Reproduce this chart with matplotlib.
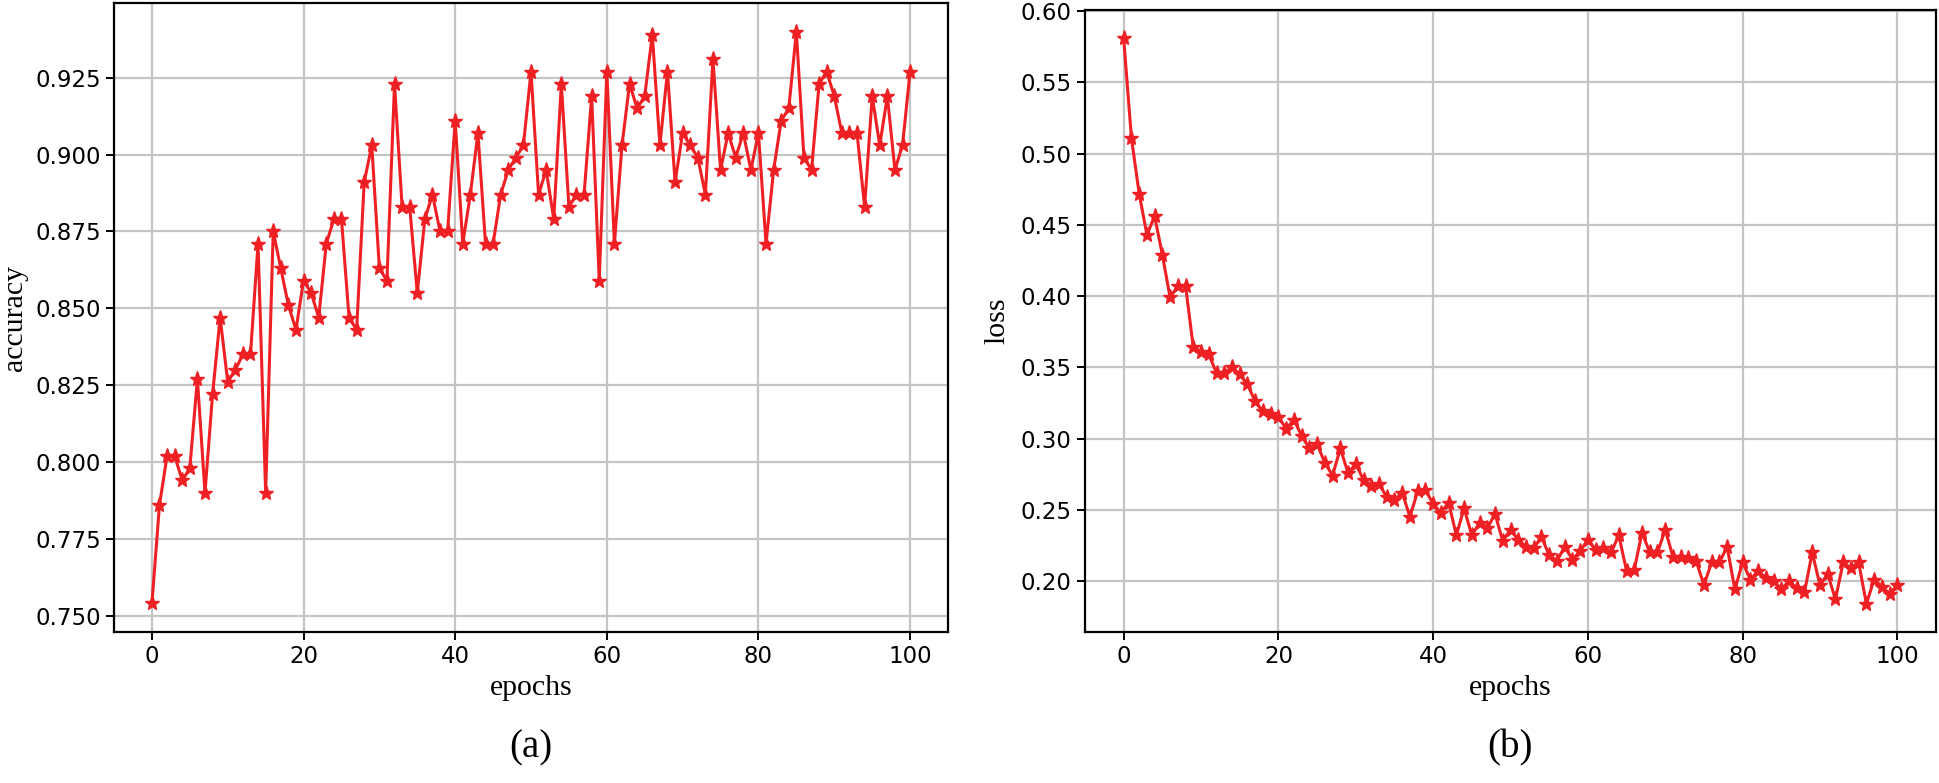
import matplotlib
matplotlib.use("Agg")
import matplotlib.pyplot as plt

# values, one per epoch (0..100)
epochs = list(range(101))

accuracy = [0.754, 0.786, 0.802, 0.802, 0.794, 0.798, 0.827, 0.790, 0.822, 0.847,
            0.826, 0.830, 0.835, 0.835, 0.871, 0.790, 0.875, 0.863, 0.851, 0.843,
            0.859, 0.855, 0.847, 0.871, 0.879, 0.879, 0.847, 0.843, 0.891, 0.903,
            0.863, 0.859, 0.923, 0.883, 0.883, 0.855, 0.879, 0.887, 0.875, 0.875,
            0.911, 0.871, 0.887, 0.907, 0.871, 0.871, 0.887, 0.895, 0.899, 0.903,
            0.927, 0.887, 0.895, 0.879, 0.923, 0.883, 0.887, 0.887, 0.919, 0.859,
            0.927, 0.871, 0.903, 0.923, 0.915, 0.919, 0.939, 0.903, 0.927, 0.891,
            0.907, 0.903, 0.899, 0.887, 0.931, 0.895, 0.907, 0.899, 0.907, 0.895,
            0.907, 0.871, 0.895, 0.911, 0.915, 0.940, 0.899, 0.895, 0.923, 0.927,
            0.919, 0.907, 0.907, 0.907, 0.883, 0.919, 0.903, 0.919, 0.895, 0.903,
            0.927]

loss = [0.581, 0.511, 0.472, 0.443, 0.456, 0.429, 0.399, 0.407, 0.407, 0.364,
        0.361, 0.359, 0.346, 0.346, 0.350, 0.345, 0.338, 0.326, 0.319, 0.317,
        0.315, 0.307, 0.313, 0.302, 0.293, 0.296, 0.283, 0.274, 0.293, 0.276,
        0.282, 0.271, 0.267, 0.268, 0.259, 0.257, 0.262, 0.245, 0.263, 0.264,
        0.254, 0.248, 0.255, 0.232, 0.251, 0.232, 0.241, 0.237, 0.247, 0.228,
        0.236, 0.229, 0.224, 0.223, 0.231, 0.218, 0.214, 0.224, 0.215, 0.221,
        0.229, 0.222, 0.223, 0.220, 0.232, 0.207, 0.208, 0.234, 0.220, 0.220,
        0.236, 0.217, 0.217, 0.216, 0.214, 0.197, 0.213, 0.213, 0.224, 0.194,
        0.213, 0.201, 0.207, 0.202, 0.200, 0.194, 0.200, 0.195, 0.192, 0.220,
        0.197, 0.205, 0.187, 0.213, 0.209, 0.213, 0.184, 0.201, 0.196, 0.191,
        0.197]

W, H = 1940, 783
fig = plt.figure(figsize=(W / 100, H / 100), dpi=100)

serif = ['Liberation Serif', 'DejaVu Serif']
red = '#ee2024'

# axes boxes in pixels: left, right, top, bottom
boxes = [(114, 948, 3, 632), (1085, 1936, 10, 632)]
# ylabel centre x in pixels
panels = [(accuracy, 'accuracy', '(a)', 15), (loss, 'loss', '(b)', 997)]

for (l, r, t, b), (vals, ylab, tag, ylx) in zip(boxes, panels):
    ax = fig.add_axes([l / W, 1 - b / H, (r - l) / W, (b - t) / H])
    ax.plot(epochs, vals, color=red, lw=2.2, marker='*', markersize=11,
            markeredgecolor=red, zorder=3)
    ax.grid(True, color='#c4c4c4', lw=1.6)
    ax.set_axisbelow(True)
    for s in ax.spines.values():
        s.set_linewidth(1.6)
    ax.tick_params(labelsize=16.5, length=6, width=1.4)
    ax.set_xticks([0, 20, 40, 60, 80, 100])

    ax.set_xlabel('epochs', fontsize=21.5, family=serif)
    ax.xaxis.label.set_va('center')
    ax.xaxis.set_label_coords(0.5, -56 / (b - t))
    ax.set_ylabel(ylab, fontsize=21.5, family=serif)
    ax.yaxis.label.set_va('center')
    ax.yaxis.set_label_coords((ylx - l) / (r - l), 0.5)

    fig.text((l + r) / 2 / W, 1 - 748 / H, tag, fontsize=28, family=serif,
             ha='center', va='center')

fig.savefig('out.png', dpi=100)
